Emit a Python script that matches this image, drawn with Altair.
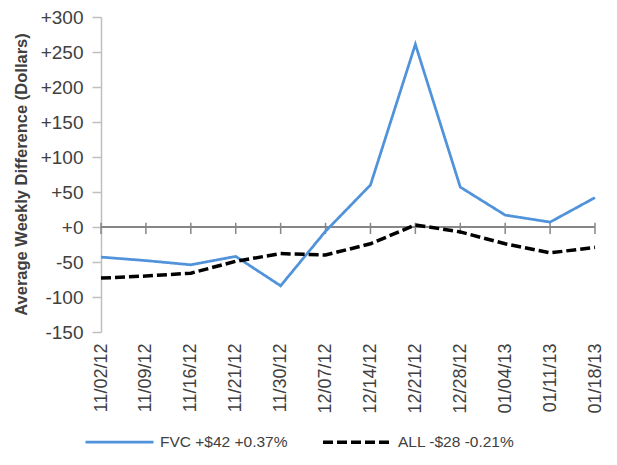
import altair as alt
import pandas as pd

dates = ["11/02/12", "11/09/12", "11/16/12", "11/21/12", "11/30/12", "12/07/12",
         "12/14/12", "12/21/12", "12/28/12", "01/04/13", "01/11/13", "01/18/13"]
fvc = [-43, -48, -54, -42, -84, -6, 60, 261, 57, 17, 7, 42]
all_ = [-73, -70, -66, -49, -38, -40, -24, 3, -7, -24, -37, -29]
series_names = ["FVC +$42 +0.37%", "ALL -$28 -0.21%"]
y_ticks = [-150, -100, -50, 0, 50, 100, 150, 200, 250, 300]

rows = []
for d, v in zip(dates, fvc):
    rows.append({"date": d, "value": v, "series": series_names[0]})
for d, v in zip(dates, all_):
    rows.append({"date": d, "value": v, "series": series_names[1]})
df = pd.DataFrame(rows)
ticks_df = pd.DataFrame({"date": dates})

FONT = "Liberation Sans"
TXT = "#404040"
y_scale = alt.Scale(domain=[-150, 300], nice=False)
x_scale = alt.Scale(type="point", padding=0)

x_axis = alt.Axis(title=None, labelAngle=-90, labelFontSize=18, labelFont=FONT,
                  labelColor=TXT, labelPadding=11, ticks=False, domain=False,
                  grid=False, labelOverlap=False)

y_axis = alt.Axis(title="Average Weekly Difference (Dollars)", values=y_ticks,
                  labelExpr="(datum.value >= 0 ? '+' : '') + datum.value",
                  labelOverlap=False, labelFlush=False,
                  labelFontSize=19, labelFont=FONT, labelColor=TXT,
                  labelPadding=9, tickSize=9, tickColor="#BFBFBF", tickWidth=1.5,
                  domainColor="#BFBFBF", domainWidth=1.5,
                  gridColor="#D9D9D9", gridWidth=1.5,
                  titleFont=FONT, titleFontSize=16.5, titleFontWeight="bold",
                  titleColor=TXT, titleX=-80, titleY=157, titleAngle=-90,
                  titleBaseline="middle", titleAlign="center")

legend = alt.Legend(title=None, orient="none", legendX=-17, legendY=389,
                    direction="horizontal", symbolType="stroke",
                    symbolSize=4624, symbolStrokeWidth=3,
                    labelFont=FONT, labelFontSize=15.5, labelColor=TXT,
                    labelOffset=5, columnPadding=28, padding=0)

lines = alt.Chart(df).mark_line(strokeCap="butt", strokeJoin="miter").encode(
    x=alt.X("date:N", sort=dates, scale=x_scale, axis=x_axis),
    y=alt.Y("value:Q", scale=y_scale, axis=y_axis),
    color=alt.Color("series:N", sort=series_names,
                    scale=alt.Scale(domain=series_names, range=["#5193DB", "#000000"]),
                    legend=legend),
    strokeDash=alt.StrokeDash("series:N", sort=series_names,
                              scale=alt.Scale(domain=series_names, range=[[1, 0], [10, 4]]),
                              legend=legend),
    strokeWidth=alt.StrokeWidth("series:N", sort=series_names,
                                scale=alt.Scale(domain=series_names, range=[2.75, 3.5]),
                                legend=None),
)

zero = alt.Chart(ticks_df).mark_rule(color="#868686", strokeWidth=2).encode(
    y=alt.YDatum(0, scale=y_scale, axis=y_axis)
)

xticks = alt.Chart(ticks_df).mark_rule(color="#868686", strokeWidth=1.5).encode(
    x=alt.X("date:N", sort=dates, scale=x_scale, axis=x_axis),
    y=alt.YDatum(6, scale=y_scale, axis=y_axis),
    y2=alt.Y2Datum(-10),
)

chart = alt.layer(zero, xticks, lines).properties(
    width=494, height=315,
    autosize=alt.AutoSizeParams(type="none"),
    padding={"left": 93, "top": 9, "right": 14, "bottom": 125},
).configure_view(strokeWidth=0)

chart.save("out.html", embed_options={"renderer": "svg", "actions": False})
